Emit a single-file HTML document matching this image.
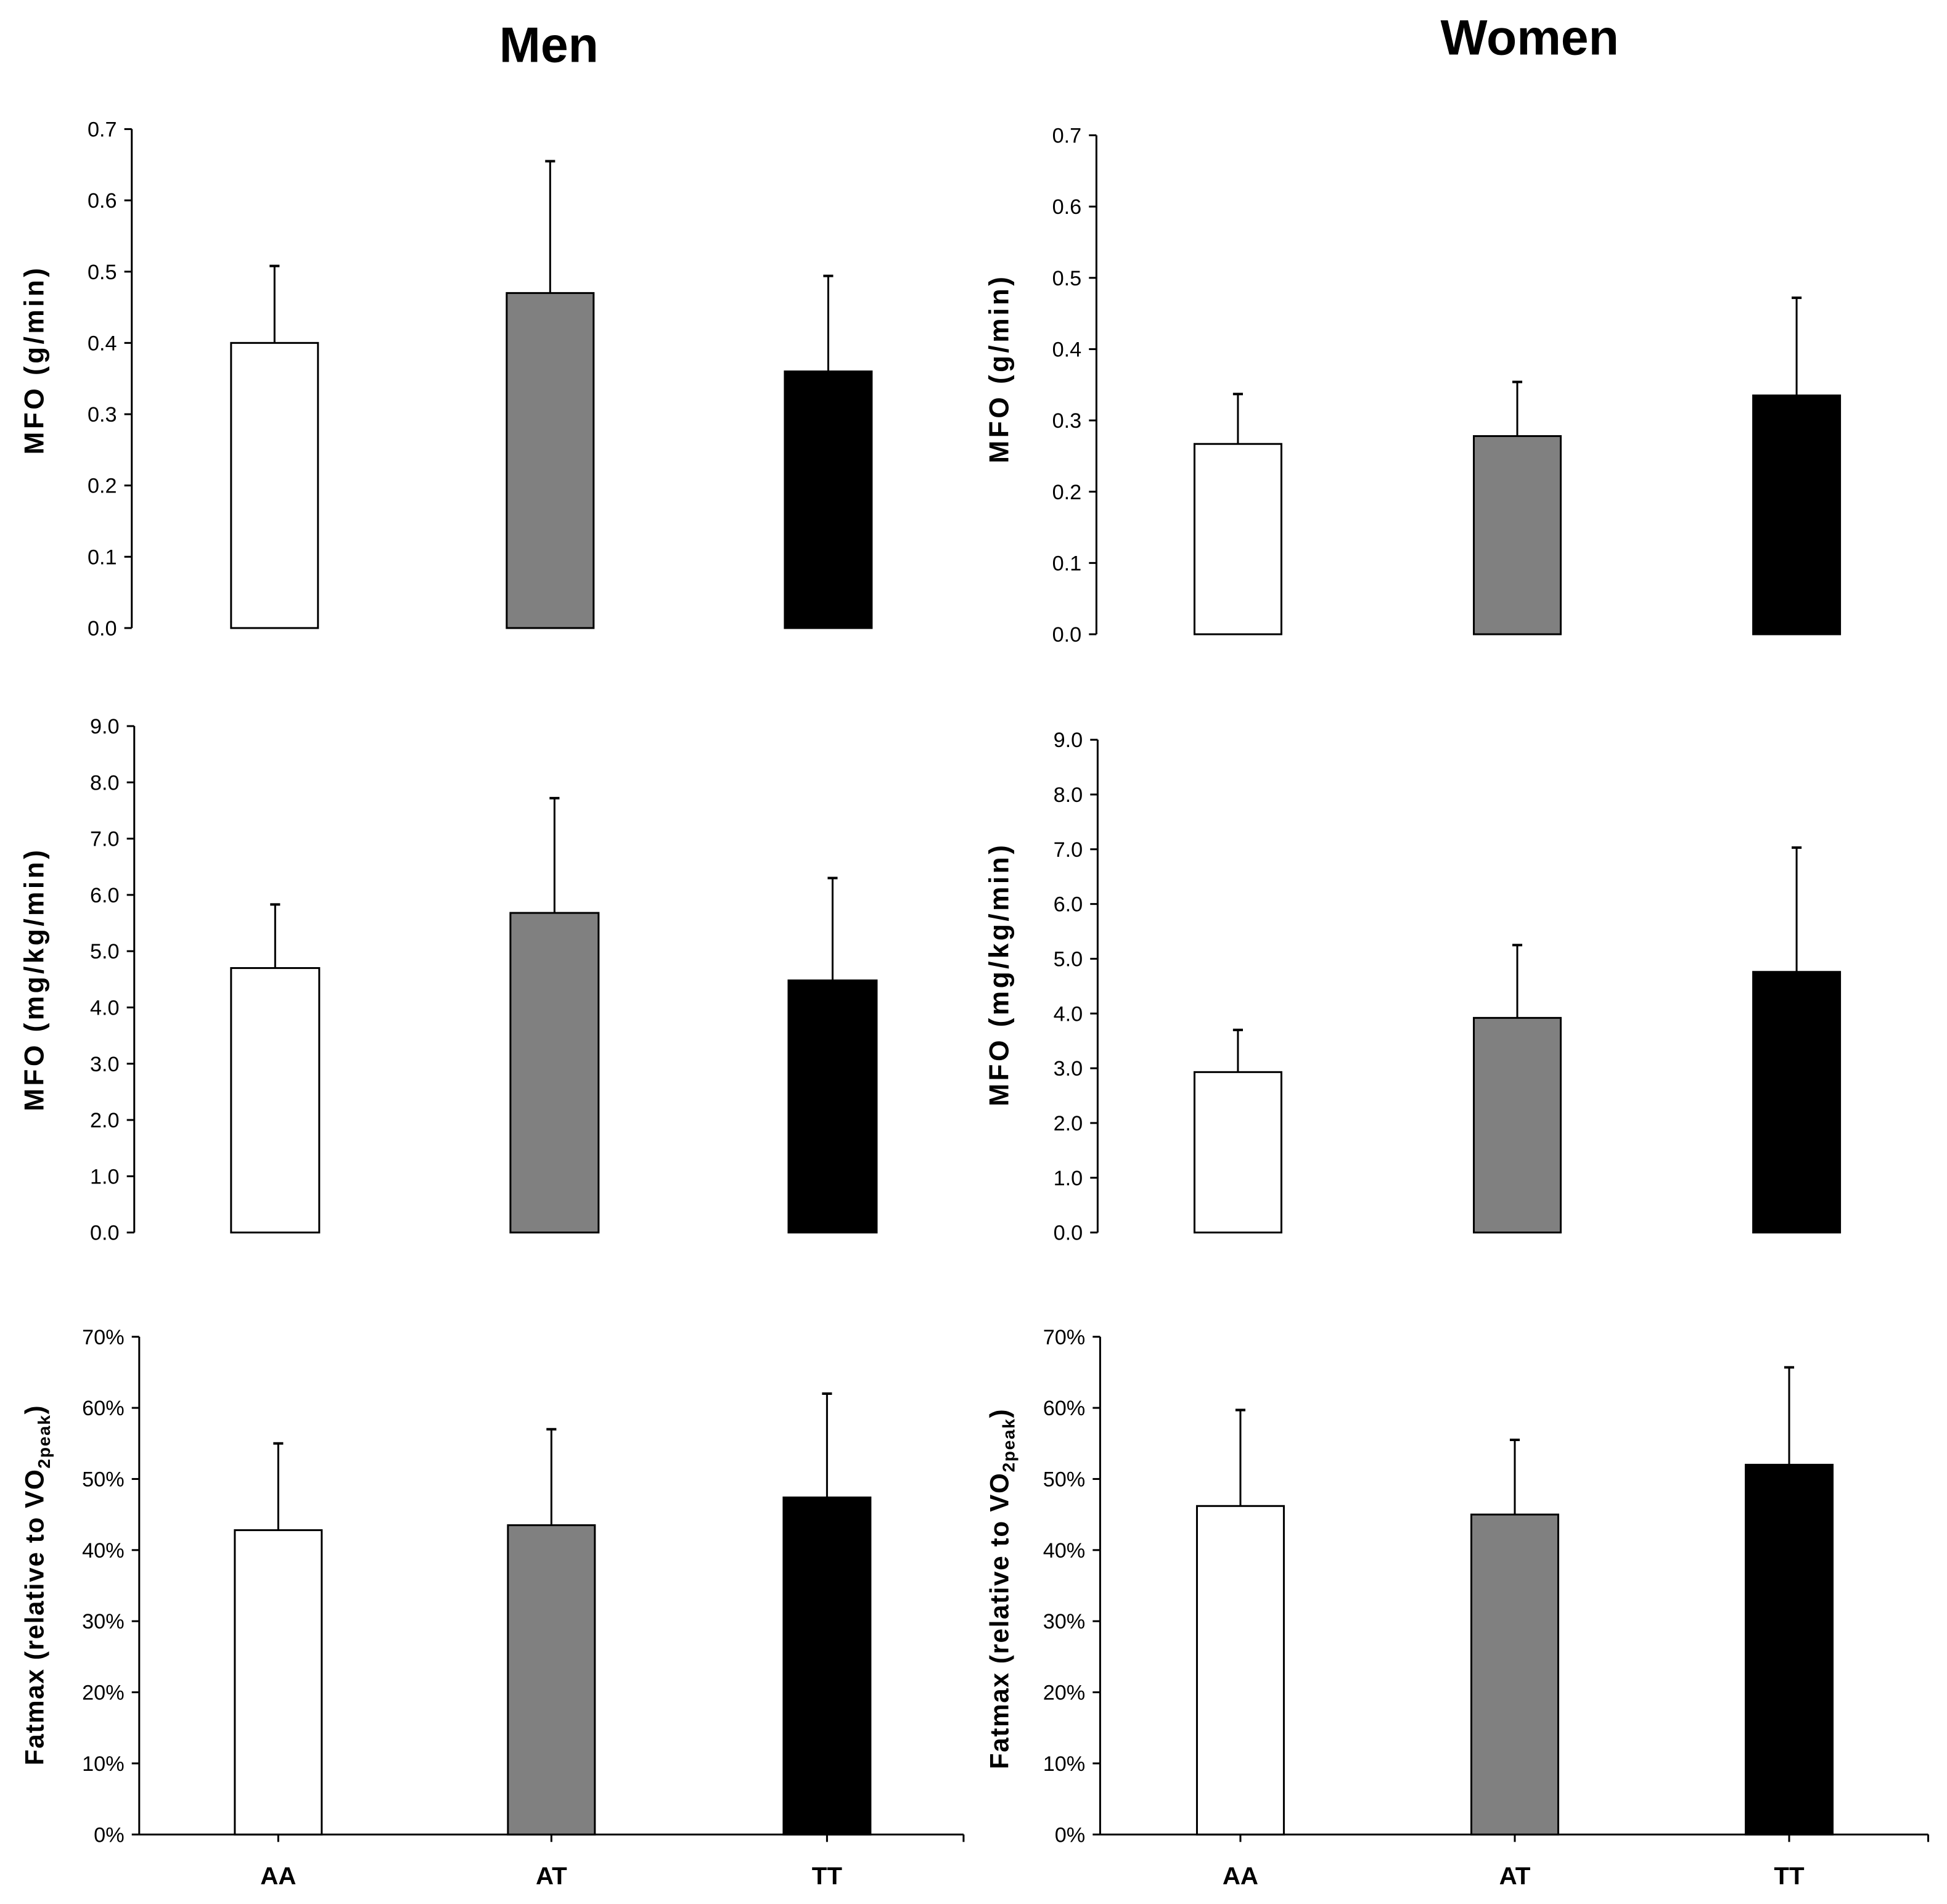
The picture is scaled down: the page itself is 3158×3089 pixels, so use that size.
<!DOCTYPE html>
<html><head><meta charset="utf-8"><style>
html,body{margin:0;padding:0;background:#fff}
svg{display:block}
text{font-family:"Liberation Sans",sans-serif}
</style></head><body>
<svg id="chart" width="3158" height="3089" viewBox="0 0 1568 1534" xmlns="http://www.w3.org/2000/svg">
<text x="442" y="50" font-size="40" font-weight="bold" text-anchor="middle">Men</text>
<text x="1232" y="44" font-size="40" font-weight="bold" text-anchor="middle">Women</text>
</svg>
<script>
const categories = ["AA","AT","TT"];
const menMfoG = [0.40, 0.47, 0.36];
const menMfoGErr = [0.508, 0.655, 0.494];
const womenMfoG = [0.267, 0.278, 0.335];
const womenMfoGErr = [0.337, 0.354, 0.472];
const menMfoKg = [4.7, 5.68, 4.48];
const menMfoKgErr = [5.83, 7.72, 6.3];
const womenMfoKg = [2.93, 3.92, 4.76];
const womenMfoKgErr = [3.7, 5.25, 7.03];
const menFatmax = [42.8, 43.5, 47.4];
const menFatmaxErr = [55, 57, 62];
const womenFatmax = [46.2, 45, 52];
const womenFatmaxErr = [59.7, 55.5, 65.7];
const ticksMfoG = ["0.0","0.1","0.2","0.3","0.4","0.5","0.6","0.7"];
const ticksMfoKg = ["0.0","1.0","2.0","3.0","4.0","5.0","6.0","7.0","8.0","9.0"];
const ticksFat = ["0%","10%","20%","30%","40%","50%","60%","70%"];
const fills = ["#ffffff","#808080","#000000"];

const svg = document.getElementById('chart');
const NS = "http://www.w3.org/2000/svg";
function mk(tag, attrs, parent){const e=document.createElementNS(NS,tag);for(const k in attrs)e.setAttribute(k,attrs[k]);(parent||svg).appendChild(e);return e;}

const panels = [
 {name:"men-mfo-g", ax:106, top:104, bot:506, max:0.7, step:0.1, ticks:ticksMfoG, vals:menMfoG, errs:menMfoGErr, bars:[186,408,632], bw:70, title:"MFO (g/min)", tx:35, ty:290, xaxis:false},
 {name:"women-mfo-g", ax:883, top:109, bot:511, max:0.7, step:0.1, ticks:ticksMfoG, vals:womenMfoG, errs:womenMfoGErr, bars:[962,1187,1412], bw:70, title:"MFO (g/min)", tx:812, ty:297, xaxis:false},
 {name:"men-mfo-kg", ax:108, top:585, bot:993, max:9, step:1, ticks:ticksMfoKg, vals:menMfoKg, errs:menMfoKgErr, bars:[186,411,635], bw:71, title:"MFO (mg/kg/min)", tx:35, ty:789, xaxis:false},
 {name:"women-mfo-kg", ax:884, top:596, bot:993, max:9, step:1, ticks:ticksMfoKg, vals:womenMfoKg, errs:womenMfoKgErr, bars:[962,1187,1412], bw:70, title:"MFO (mg/kg/min)", tx:812, ty:785, xaxis:false},
 {name:"men-fatmax", ax:112, top:1077, bot:1478, max:70, step:10, ticks:ticksFat, vals:menFatmax, errs:menFatmaxErr, bars:[189,409,631], bw:70, title:"Fatmax", tx:35, ty:1277, xaxis:true, xend:776},
 {name:"women-fatmax", ax:886, top:1077, bot:1478, max:70, step:10, ticks:ticksFat, vals:womenFatmax, errs:womenFatmaxErr, bars:[964,1185,1406], bw:70, title:"Fatmax", tx:812, ty:1280, xaxis:true, xend:1553}
];

panels.forEach(p=>{
 const g = mk('g',{});
 
 
 const y = v => p.bot - (v/p.max)*(p.bot-p.top);
 const yax = mk('line',{x1:p.ax,y1:p.top,x2:p.ax,y2:p.bot,stroke:"#000","stroke-width":1.5},g);
 
 
 p.ticks.forEach((t,i)=>{
  const yy = y(i*p.step);
  mk('line',{x1:p.ax-6,y1:yy,x2:p.ax,y2:yy,stroke:"#000","stroke-width":1.5},g);
  const tl = mk('text',{x:p.ax-12,y:yy+6,"font-size":17,"text-anchor":"end"},g);
  tl.textContent = t;
  
  
 });
 if(p.xaxis){
  const xa = mk('line',{x1:p.ax,y1:p.bot,x2:p.xend,y2:p.bot,stroke:"#000","stroke-width":1.5},g);
  
  
  mk('line',{x1:p.xend,y1:p.bot,x2:p.xend,y2:p.bot+6,stroke:"#000","stroke-width":1.5},g);
 }
 p.vals.forEach((v,i)=>{
  const x0 = p.bars[i], cx = x0 + p.bw/2;
  const ye = y(p.errs[i]);
  const el = mk('line',{x1:cx,y1:y(v),x2:cx,y2:ye,stroke:"#000","stroke-width":1.5},g);
  
  
  mk('line',{x1:cx-4,y1:ye,x2:cx+4,y2:ye,stroke:"#000","stroke-width":2},g);
  const r = mk('rect',{x:x0,y:y(v),width:p.bw,height:p.bot-y(v),fill:fills[i],stroke:"#000","stroke-width":1.5},g);
  
  
  if(p.xaxis){
   mk('line',{x1:cx,y1:p.bot,x2:cx,y2:p.bot+6,stroke:"#000","stroke-width":1.5},g);
   const cl = mk('text',{x:cx,y:p.bot+40,"font-size":20,"font-weight":"bold","text-anchor":"middle"},g);
   cl.textContent = categories[i];
   
   
  }
 });
 const isFat = p.title==="Fatmax";
 const tt = mk('text',{x:0,y:0,"font-size":isFat?21:22,"letter-spacing":isFat?0.8:2.2,"font-weight":"bold","text-anchor":"middle",transform:`translate(${p.tx},${p.ty}) rotate(-90)`},g);
 
 
 if(isFat){
  tt.textContent = "Fatmax (relative to VO";
  const s1 = mk('tspan',{"font-size":14,dy:5},tt); s1.textContent="2peak";
  const s2 = mk('tspan',{dy:-5},tt); s2.textContent=")";
 } else tt.textContent = p.title;
});
</script>
</body></html>
